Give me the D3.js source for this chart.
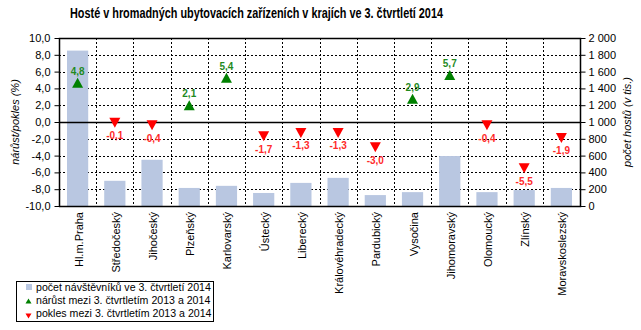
<!DOCTYPE html>
<html lang="cs">
<head>
<meta charset="utf-8">
<title>Hosté v krajích</title>
<script src="https://d3js.org/d3.v7.min.js"></script>
<style>
  body { margin: 0; background: #fff; font-family: "Liberation Sans", Arial, sans-serif; }
  svg text { fill: #000; }
</style>
</head>
<body>
<div id="chart"></div>
<script>
// data
var regions = ["Hl.m.Praha", "Středočeský", "Jihočeský", "Plzeňský", "Karlovarský", "Ústecký",
  "Liberecký", "Královéhradecký", "Pardubický", "Vysočina", "Jihomoravský", "Olomoucký",
  "Zlínský", "Moravskoslezský"];
var guests = [1850, 300, 550, 215, 240, 155, 275, 335, 130, 165, 595, 165, 190, 215];
var change = [4.8, -0.1, -0.4, 2.1, 5.4, -1.7, -1.3, -1.3, -3.0, 2.9, 5.7, -0.4, -5.5, -1.9];
var leftTicks = [-10, -8, -6, -4, -2, 0, 2, 4, 6, 8, 10];
var rightTicks = [0, 200, 400, 600, 800, 1000, 1200, 1400, 1600, 1800, 2000];
var legendLabels = ["počet návštěvníků ve 3. čtvrtletí 2014",
  "nárůst mezi 3. čtvrtletím 2013 a 2014",
  "pokles mezi 3. čtvrtletím 2013 a 2014"];

var W = 641, H = 330;
var pL = 59, pR = 580, pT = 38, pB = 206;

var svg = d3.select("#chart").append("svg")
  .attr("width", W).attr("height", H);

var x = d3.scaleBand().domain(regions).range([pL, pR]).paddingInner(0.43).paddingOuter(0.215);
var xCell = d3.scaleBand().domain(regions).range([pL, pR]);
var yL = d3.scaleLinear().domain([-10, 10]).range([pB, pT]);
var yR = d3.scaleLinear().domain([0, 2000]).range([pB, pT]);

var fmtL = function(d) { return d3.format(".1f")(d).replace(".", ",").replace("−", "-"); };
var fmtR = function(d) { return d3.format(",")(d).replace(/,/g, " "); };

// title
svg.append("text")
  .attr("x", 70).attr("y", 18)
  .attr("textLength", 373).attr("lengthAdjust", "spacingAndGlyphs")
  .style("font-weight", "bold")
  .style("font-size", "14px")
  .text("Hosté  v hromadných ubytovacích  zařízeních v krajích ve 3. čtvrtletí 2014");

// gridlines
var grid = svg.append("g");
grid.selectAll("line.h").data(leftTicks.filter(function(d) { return d !== 0 && d !== 10 && d !== -10; }))
  .enter().append("line")
  .attr("x1", pL).attr("x2", pR)
  .attr("y1", function(d) { return Math.round(yL(d)) + 0.5; })
  .attr("y2", function(d) { return Math.round(yL(d)) + 0.5; })
  .attr("stroke", "#000").attr("stroke-width", 1).attr("stroke-dasharray", "2,2");
grid.selectAll("line.v").data(regions.slice(1))
  .enter().append("line")
  .attr("x1", function(d) { return Math.round(xCell(d)) + 0.5; })
  .attr("x2", function(d) { return Math.round(xCell(d)) + 0.5; })
  .attr("y1", pT).attr("y2", pB)
  .attr("stroke", "#000").attr("stroke-width", 1).attr("stroke-dasharray", "2,2");

// bars
svg.append("g").selectAll("rect").data(guests).enter().append("rect")
  .attr("x", function(d, i) { return x(regions[i]); })
  .attr("width", x.bandwidth())
  .attr("y", function(d) { return yR(d); })
  .attr("height", function(d) { return pB - yR(d); })
  .attr("fill", "#b9c7e1");

// zero line
svg.append("line")
  .attr("x1", pL).attr("x2", pR)
  .attr("y1", Math.round(yL(0)) + 0.5).attr("y2", Math.round(yL(0)) + 0.5)
  .attr("stroke", "#000").attr("stroke-width", 1.5);

// frame
svg.append("path")
  .attr("d", "M" + (pL + 0.5) + "," + pB + "V" + (pT + 0.5) + "H" + (pR + 0.5) + "V" + (pB + 0.5) + "H" + pL)
  .attr("fill", "none").attr("stroke", "#000").attr("stroke-width", 1.5);

// axes
var axL = svg.append("g").attr("transform", "translate(" + (pL + 0.5) + ",0)")
  .call(d3.axisLeft(yL).tickValues(leftTicks).tickFormat(fmtL).tickSize(5).tickPadding(4));
var axR = svg.append("g").attr("transform", "translate(" + (pR + 0.5) + ",0)")
  .call(d3.axisRight(yR).tickValues(rightTicks).tickFormat(fmtR).tickSize(5).tickPadding(3));
[axL, axR].forEach(function(a) {
  a.select(".domain").remove();
  a.selectAll("text").style("font-size", "11px").style("font-family", "'Liberation Sans', Arial, sans-serif");
});

// x labels
svg.append("g").selectAll("text").data(regions).enter().append("text")
  .attr("transform", function(d) {
    return "translate(" + (x(d) + x.bandwidth() / 2 + 5) + "," + (pB + 6) + ") rotate(-90)";
  })
  .attr("text-anchor", "end")
  .style("font-size", "11px")
  .text(function(d) { return d; });

// axis titles
svg.append("text")
  .attr("transform", "translate(19," + yL(0) + ") rotate(-90)")
  .attr("text-anchor", "middle")
  .style("font-size", "11px").style("font-style", "italic")
  .text("nárůst/pokles (%)");
svg.append("text")
  .attr("transform", "translate(631," + yL(0) + ") rotate(-90)")
  .attr("text-anchor", "middle")
  .style("font-size", "11px").style("font-style", "italic")
  .text("počet hostů (v tis.)");

// triangle markers (up = growth, down = decline), 11 px wide, 10 px tall
var marks = svg.append("g");
change.forEach(function(v, i) {
  var cx = x(regions[i]) + x.bandwidth() / 2;
  var cy = yL(v);
  var up = v > 0;
  var d = up ? "M0,-5L5.5,5L-5.5,5Z" : "M0,5L5.5,-5L-5.5,-5Z";
  marks.append("path")
    .attr("d", d)
    .attr("transform", "translate(" + cx + "," + (up ? cy + 1 : cy) + ")")
    .attr("fill", up ? "#008000" : "#ff0000");
  marks.append("text")
    .attr("x", cx).attr("y", up ? cy - 7 : cy + 16.5)
    .attr("text-anchor", "middle")
    .style("font-size", "10px").style("font-weight", "bold")
    .style("fill", up ? "#1f8a1f" : "#ff2a2a")
    .text(fmtL(v));
});

// legend
var lg = svg.append("g");
lg.append("rect").attr("x", 16.5).attr("y", 281.5).attr("width", 197).attr("height", 40)
  .attr("fill", "#fff").attr("stroke", "#000").attr("stroke-width", 1);
var rows = [287, 300, 313];
lg.append("rect").attr("x", 26).attr("y", rows[0] - 3).attr("width", 6).attr("height", 6).attr("fill", "#b9c7e1");
lg.append("path").attr("d", "M0,-2.5L3,2.5L-3,2.5Z")
  .attr("transform", "translate(28.5," + (rows[1] + 1) + ")").attr("fill", "#008000");
lg.append("path").attr("d", "M0,2.5L3,-2.5L-3,-2.5Z")
  .attr("transform", "translate(28.5," + (rows[2] + 3) + ")").attr("fill", "#ff0000");
lg.selectAll("text.l").data(legendLabels).enter().append("text")
  .attr("x", 36).attr("y", function(d, i) { return rows[i] + 4; })
  .style("font-size", "10.6px")
  .text(function(d) { return d; });
</script>
</body>
</html>
